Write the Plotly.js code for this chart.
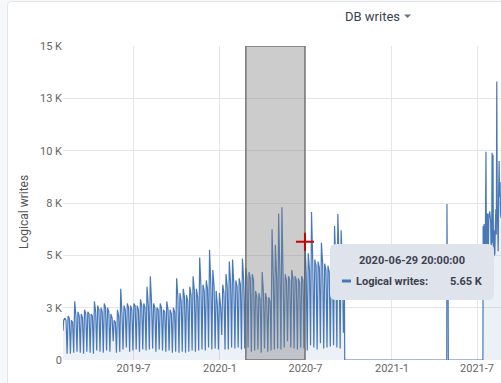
<!DOCTYPE html>
<html><head><meta charset="utf-8">
<script src="https://cdn.plot.ly/plotly-3.0.1.min.js"></script>
<style>
html,body{margin:0;padding:0;background:#f6f7f9;width:501px;height:383px;overflow:hidden;}
#card{position:absolute;left:7px;top:1px;width:640px;height:520px;background:#fff;border:1px solid #e2e5e9;border-radius:4px;}
#chart{position:absolute;left:0;top:0;width:501px;height:383px;}
</style></head><body>
<div id="card"></div><div id="chart"></div>
<script>
// ---- data (values in K) ----
const weekStart = '2019-02-04';
const weeklyPeak = [2.0,2.1,1.9,2.8,2.3,2.2,2.4,2.3,2.2,2.8,2.6,2.5,2.7,2.5,2.2,1.9,2.4,3.4,2.6,2.7,
  2.6,2.7,2.6,2.9,2.7,3.5,4.0,2.7,2.5,2.7,2.4,2.8,2.4,2.5,3.9,3.2,3.4,3.1,3.5,4.0,
  3.4,4.9,3.6,3.8,5.25,4.3,3.3,3.2,3.6,4.1,4.7,4.8,3.8,3.9,4.85,4.4,4.2,4.1,3.3,3.2,
  4.2,3.2,3.0,6.25,5.5,7.0,7.3,4.1,4.0,4.3,4.0,3.9,4.0,5.65,5.1,7.07,4.8,4.7,5.6,4.6,
  4.5,4.4,6.4,6.97,6.2];
const weeklyLevel = [1.9,2.0,1.8,2.1,2.1,2.0,2.2,2.2,2.1,2.3,2.4,2.3,2.5,2.3,2.0,1.8,2.1,2.2,2.4,2.5,
  2.4,2.6,2.4,2.6,2.5,2.6,2.7,2.5,2.4,2.5,2.3,2.4,2.2,2.3,3.0,2.8,3.0,2.8,3.1,3.3,
  3.0,3.5,3.3,3.4,3.6,3.5,2.6,2.5,3.2,3.5,3.7,3.6,3.5,3.6,3.8,3.9,3.9,3.8,3.0,2.9,
  3.2,2.9,2.8,3.9,4.0,4.1,4.0,3.8,3.8,3.9,3.8,3.7,3.8,4.1,4.3,4.6,4.5,4.4,4.6,4.3,
  4.2,4.1,4.5,4.8,4.6];
const weeklyLow = [0.3,0.3,0.35,0.4,0.35,0.3,0.4,0.35,0.3,0.45,0.4,0.35,0.45,0.4,0.9,0.35,0.4,0.5,0.6,0.4,
  0.45,0.5,0.4,0.5,0.45,0.5,0.55,0.4,0.5,0.45,0.4,0.45,0.35,0.4,0.35,0.4,0.35,0.4,0.45,0.4,
  0.45,0.5,0.45,0.6,0.5,0.55,0.5,1.2,0.5,0.5,0.6,0.55,0.6,0.5,0.55,0.6,0.4,0.45,0.5,0.35,
  0.55,0.4,0.45,0.5,0.55,0.5,0.6,0.9,0.6,0.55,0.5,0.6,0.55,0.45,0.7,0.6,0.5,0.8,0.55,0.6,
  0.65,0.7,0.6,0.55,1.3];
const headTimes = ['2019-02-01 00:00','2019-02-02 12:00'];
const headValues = [1.4,1.9];
const tailTimes = ['2020-09-21 20:00','2020-09-22 12:00','2021-04-27 12:00','2021-04-28 00:00','2021-04-29 00:00',
  '2021-04-30 12:00','2021-05-01 00:00','2021-07-13 12:00',
  '2021-07-14','2021-07-15','2021-07-16','2021-07-17','2021-07-18','2021-07-19','2021-07-20','2021-07-21',
  '2021-07-22','2021-07-23','2021-07-24','2021-07-25','2021-07-26','2021-07-27','2021-07-28','2021-07-29',
  '2021-07-30','2021-07-31','2021-08-01','2021-08-02','2021-08-03','2021-08-04','2021-08-05','2021-08-06',
  '2021-08-07','2021-08-08','2021-08-09','2021-08-10','2021-08-11','2021-08-12','2021-08-13','2021-08-14',
  '2021-08-15','2021-08-16','2021-08-17','2021-08-18','2021-08-19','2021-08-20','2021-08-21','2021-08-22'];
const tailValues = [3.0,0,0,7.45,3.0,3.0,0,0,
  6.4,5.0,6.5,5.2,5.0,6.6,9.95,5.3,
  6.9,7.0,5.4,5.1,7.0,6.8,7.1,6.9,
  6.6,5.2,5.0,9.9,5.6,9.8,4.9,6.2,
  5.0,5.1,6.5,7.2,6.0,13.3,7.5,5.5,
  5.2,8.0,9.5,7.8,8.5,7.0,6.8,7.2];
const xTickVals = ['2019-07-01','2020-01-01','2020-07-01','2021-01-01','2021-07-01'];
const xTickText = ['2019-7','2020-1','2020-7','2021-1','2021-7'];
const yTickVals = [0,2500,5000,7500,10000,12500,15000];
const yTickText = ['0','3 K','5 K','8 K','10 K','13 K','15 K'];
const seriesName = 'Logical writes';
const zoomStart = '2020-02-25';
const hoverTime = '2020-06-29 20:00';
const hoverValue = 5.65;
const hoverLabel = '2020-06-29 20:00:00';

// ---- build series ----
const fmt = ms => new Date(ms).toISOString().slice(0,16).replace('T',' ');
const xs = headTimes.slice(), ys = headValues.map(v=>v*1000);
const base = Date.parse(weekStart+'T00:00:00Z'), H = 3600e3, D = 24*H;
for (let k=0;k<weeklyPeak.length;k++){
  const mon = base + k*7*D;
  xs.push(fmt(mon+20*H)); ys.push(weeklyPeak[k]*1000);
  xs.push(fmt(mon+3*D+12*H)); ys.push(weeklyLevel[k]*1000);
  xs.push(fmt(mon+5*D+18*H)); ys.push(weeklyLow[k]*1000);
}
tailTimes.forEach((t,i)=>{xs.push(t); ys.push(tailValues[i]*1000);});

const L=63,T=46,W=438,HH=314;
const px = x => (x-L)/W, py = y => (T+HH-y)/HH;
function rr(x0,y0,x1,y1,r){
  const p=(x,y)=>px(x)+','+py(y);
  return 'M'+p(x0+r,y0)+' L'+p(x1-r,y0)+' Q'+p(x1,y0)+' '+p(x1,y0+r)+
    ' L'+p(x1,y1-r)+' Q'+p(x1,y1)+' '+p(x1-r,y1)+' L'+p(x0+r,y1)+' Q'+p(x0,y1)+' '+p(x0,y1-r)+
    ' L'+p(x0,y0+r)+' Q'+p(x0,y0)+' '+p(x0+r,y0)+' Z';
}
const lineColor = '#4878b8';
const font = 'Roboto, "Noto Sans", sans-serif';

const data = [{
  type:'scatter', mode:'lines', x:xs, y:ys, name:seriesName,
  line:{color:lineColor,width:1.2}, fill:'tozeroy', fillcolor:'rgba(72,120,184,0.10)',
  hoverinfo:'skip'
}];

const shapes = [
  {type:'rect',xref:'x',yref:'y',x0:zoomStart,x1:hoverTime,y0:0,y1:15000,layer:'above',
   fillcolor:'rgba(128,128,128,0.4)',line:{color:'rgba(100,100,100,0.85)',width:1.5}},
  {type:'line',xref:'x',yref:'y',xsizemode:'pixel',ysizemode:'pixel',xanchor:hoverTime,yanchor:hoverValue*1000,
   x0:-9,x1:9,y0:0,y1:0,line:{color:'#c80000',width:2}},
  {type:'line',xref:'x',yref:'y',xsizemode:'pixel',ysizemode:'pixel',xanchor:hoverTime,yanchor:hoverValue*1000,
   x0:0,x1:0,y0:-9,y1:9,line:{color:'#c80000',width:2}},
  {type:'path',xref:'paper',yref:'paper',path:rr(330,244,494,300,6),fillcolor:'#dfe3ec',line:{width:0}},
  {type:'line',xref:'paper',yref:'paper',x0:px(342),x1:px(351),y0:py(281),y1:py(281),line:{color:lineColor,width:3}},
  {type:'path',xref:'paper',yref:'paper',path:'M'+px(404)+','+py(14.5)+' L'+px(411)+','+py(14.5)+' L'+px(407.5)+','+py(18)+' Z',
   fillcolor:'#6b7280',line:{width:0}}
];

const ann = [
  {xref:'paper',yref:'paper',x:px(372.5),y:py(16),text:'DB writes',showarrow:false,xanchor:'center',yanchor:'middle',
   font:{family:font,size:13,color:'#3a4150'}},
  {xref:'paper',yref:'paper',x:px(24),y:py(212),text:seriesName,textangle:-90,showarrow:false,xanchor:'center',yanchor:'middle',
   font:{family:font,size:12,color:'#555'}},
  {xref:'paper',yref:'paper',x:px(411.5),y:py(260),text:'<b>'+hoverLabel+'</b>',showarrow:false,xanchor:'center',yanchor:'middle',
   font:{family:font,size:11,color:'#3b4250'}},
  {xref:'paper',yref:'paper',x:px(354),y:py(281),text:'<b>'+seriesName+':</b>',showarrow:false,xanchor:'left',yanchor:'middle',
   font:{family:font,size:11,color:'#3b4250'}},
  {xref:'paper',yref:'paper',x:px(485),y:py(281),text:'<b>'+hoverValue.toFixed(2)+' K</b>',showarrow:false,xanchor:'right',yanchor:'middle',
   font:{family:font,size:11,color:'#3b4250'}}
];

const layout = {
  width:501,height:383,margin:{l:L,r:0,t:T,b:383-T-HH,pad:0},
  paper_bgcolor:'rgba(0,0,0,0)',plot_bgcolor:'#fff',showlegend:false,hovermode:false,
  font:{family:font,size:11,color:'#666'},
  xaxis:{type:'date',range:['2019-02-01','2021-08-21'],tickvals:xTickVals,ticktext:xTickText,
    showgrid:true,gridcolor:'#e6e6e6',gridwidth:1,zeroline:false,showline:false,ticks:'',
    tickfont:{family:font,size:11,color:'#666'},fixedrange:true},
  yaxis:{range:[0,15000],tickvals:yTickVals,ticktext:yTickText,showgrid:true,gridcolor:'#e6e6e6',gridwidth:1,
    zeroline:false,showline:false,ticks:'',tickfont:{family:font,size:11,color:'#666'},fixedrange:true},
  shapes:shapes,annotations:ann
};
Plotly.newPlot('chart',data,layout,{displayModeBar:false,staticPlot:true});
</script></body></html>
